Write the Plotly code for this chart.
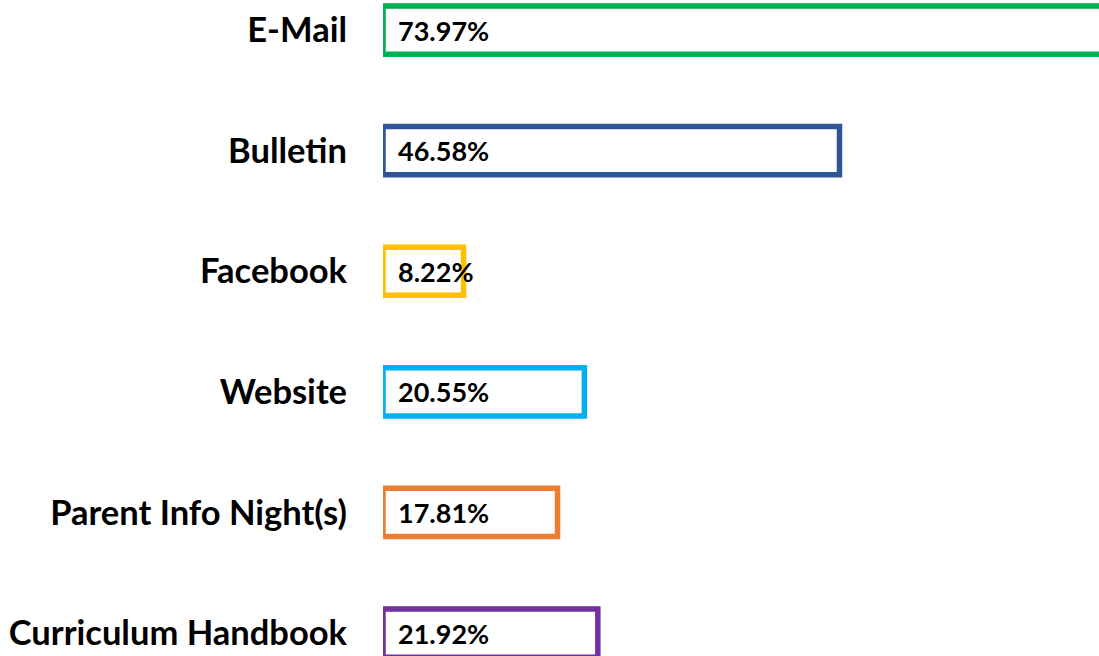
import plotly.graph_objects as go

categories = ["E-Mail", "Bulletin", "Facebook", "Website", "Parent Info Night(s)", "Curriculum Handbook"]
values = [73.97, 46.58, 8.22, 20.55, 17.81, 21.92]
colors = ["#00B050", "#2F5597", "#FFC000", "#00B0F0", "#ED7D31", "#7030A0"]
value_labels = [f"{v:.2f}%" for v in values]

FONT = "Lato"

fig = go.Figure()
fig.add_trace(go.Bar(
    y=categories,
    x=values,
    orientation="h",
    width=0.4,
    marker=dict(color="white", line=dict(color=colors, width=5.5)),
    hoverinfo="skip",
))

for cat, lab in zip(categories, value_labels):
    fig.add_annotation(
        x=0, y=cat, xref="x", yref="y",
        text=f"<b>{lab}</b>", showarrow=False,
        xanchor="left", yanchor="middle", xshift=13,
        font=dict(family=FONT, size=27, color="black"),
    )

fig.update_layout(
    width=1099, height=656,
    margin=dict(l=383, r=0, t=0, b=0),
    paper_bgcolor="white", plot_bgcolor="white",
    showlegend=False,
    bargap=0.6,
)
fig.update_xaxes(range=[0, 73.06], visible=False, showgrid=False, zeroline=False)
fig.update_yaxes(
    type="category",
    categoryorder="array", categoryarray=categories,
    range=[5.19, -0.249],
    showgrid=False, zeroline=False, showline=False,
    ticks="",
    tickmode="array", tickvals=categories,
    ticktext=[f"<b>{c}</b>" for c in categories],
    tickfont=dict(family=FONT, size=34.5, color="black"),
    ticklabelstandoff=35,
)

fig.write_html(
    "out.html",
    config={"displayModeBar": False},
    post_script="document.body.style.margin='0';document.body.style.overflow='hidden';",
)
